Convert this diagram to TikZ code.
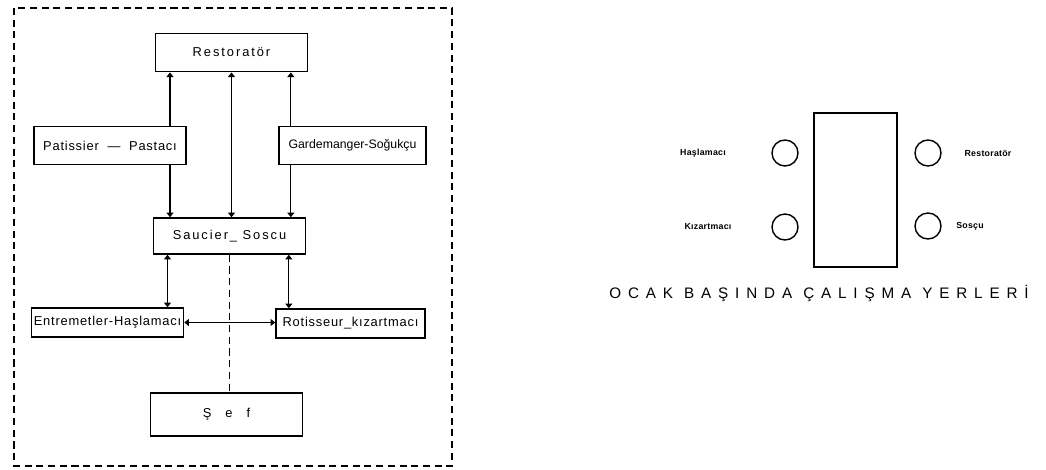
\documentclass[tikz,border=0pt]{standalone}
\usepackage{fontspec}
\setmainfont{Liberation Sans}
\newfontfamily\boxfont[LetterSpace=6]{Liberation Sans}
\newfontfamily\widefont[LetterSpace=15]{Liberation Sans}
\newfontfamily\capfont[LetterSpace=45]{Liberation Sans}
\newfontfamily\tagfont[LetterSpace=3]{Liberation Sans}
\usepackage{tikz}
\usetikzlibrary{arrows.meta,positioning,calc}
\tikzset{
  role/.style={draw, line width=1.3pt, align=center, inner sep=2pt,
               minimum width=4.55cm, minimum height=1.15cm,
               font=\boxfont\fontsize{11}{13}\selectfont},
  wrole/.style={role, font=\widefont\fontsize{11}{13}\selectfont},
  nrole/.style={role, font=\fontsize{10.5}{13}\selectfont},
  burner/.style={draw, circle, line width=1.2pt, minimum size=0.78cm, inner sep=0pt},
  tag/.style={font=\tagfont\bfseries\fontsize{7.5}{9}\selectfont, inner sep=1pt},
  link/.style={{Triangle[width=6pt,length=4pt]}-{Triangle[width=6pt,length=4pt]}, line width=1pt},
  uplink/.style={-{Triangle[width=6pt,length=4pt]}, line width=1pt},
  frame/.style={line width=1.2pt, dash pattern=on 6pt off 4pt}
}

\begin{document}
\begin{tikzpicture}[x=0.03cm,y=-0.03cm]
  \useasboundingbox (0,0) rectangle (1046,469);
  \draw[frame] (14,8) rectangle (452,466);

  \node[wrole] (rest) at (231.5,52.5) {Restoratör};
  \node[role] (pat) at (110,145.5) {Patissier~~—~~Pastacı};
  \node[nrole, minimum width=4.41cm] (gard) at (352.5,145.5) {Gardemanger-Soğukçu};
  \node[wrole, minimum height=1.08cm] (sauc) at (229.5,236) {Saucier\_ Soscu};
  \node[role, minimum height=0.87cm] (entr) at (107.5,322.5) {Entremetler-Haşlamacı};
  \node[role, minimum width=4.47cm, minimum height=0.87cm] (roti) at (350.5,323.5) {Rotisseur\_kızartmacı};
  \node[role, minimum height=1.29cm] (sef) at (226.5,414.5) {Ş\hspace{0.42cm}e\hspace{0.42cm}f};

  \draw[uplink] ([xshift=1.8cm]pat.north) -- ([xshift=1.8cm]pat.north |- rest.south);
  \draw[uplink] ([xshift=1.8cm]pat.south) -- ([xshift=1.8cm]pat.south |- sauc.north);
  \draw[uplink] ([xshift=-1.85cm]gard.north) -- ([xshift=-1.85cm]gard.north |- rest.south);
  \draw[uplink] ([xshift=-1.85cm]gard.south) -- ([xshift=-1.85cm]gard.south |- sauc.north);
  \draw[link] (rest.south) -- (rest.south |- sauc.north);
  \draw[link] ([xshift=1.8cm]entr.north) -- ([xshift=1.8cm]entr.north |- sauc.south);
  \draw[link] ([xshift=-1.85cm]roti.north) -- ([xshift=-1.85cm]roti.north |- sauc.south);
  \draw[link] (entr.east) -- (entr.east -| roti.west);
  \draw[frame, line width=1pt] (sauc.south) -- (sauc.south |- sef.north);

  \node[draw, line width=1.3pt, minimum width=2.49cm, minimum height=4.62cm] (ocak) at (855.5,190) {};
  \node[burner] (b1) at (785,153) {};
  \node[burner] (b2) at (785,227) {};
  \node[burner] (b3) at (928,153) {};
  \node[burner] (b4) at (928,226) {};
  \node[tag] (t1) at (703,153) {Haşlamacı};
  \node[tag] (t2) at (708,227) {Kızartmacı};
  \node[tag] (t3) at (988,153) {Restoratör};
  \node[tag] (t4) at (970,226) {Sosçu};
  \node[font=\capfont\fontsize{13}{15}\selectfont] (cap) at (819,293) {OCAK BAŞINDA ÇALIŞMA YERLERİ};
\end{tikzpicture}
\end{document}
